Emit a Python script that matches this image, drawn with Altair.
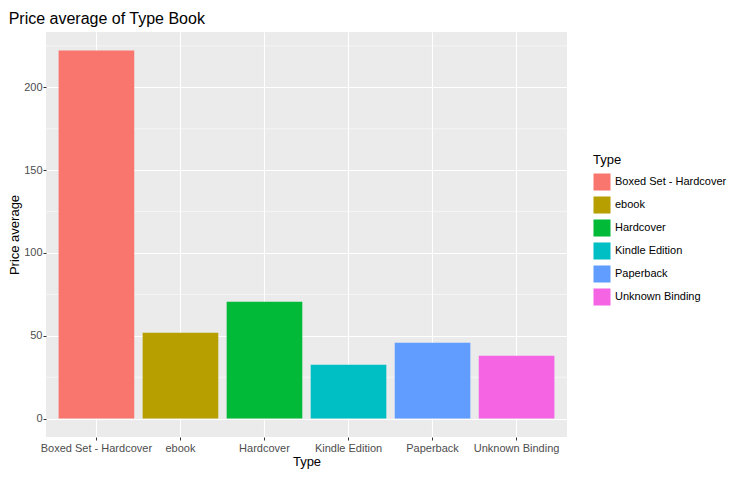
import altair as alt
import pandas as pd

types = ["Boxed Set - Hardcover", "ebook", "Hardcover", "Kindle Edition", "Paperback", "Unknown Binding"]
prices = [222.3, 51.8, 70.5, 32.5, 45.8, 38.0]
colors = ["#F8766D", "#B79F00", "#00BA38", "#00BFC4", "#619CFF", "#F564E3"]
minor_ticks = [25, 75, 125, 175, 225]

df = pd.DataFrame({"Type": types, "Price average": prices})
minor = pd.DataFrame({"v": minor_ticks})

FONT = "Liberation Sans"

x = alt.X("Type:N", sort=types, title="Type",
          scale=alt.Scale(paddingInner=0.1, paddingOuter=0.15),
          axis=alt.Axis(labelAngle=0, bandPosition=0.5, grid=True, gridColor="white",
                        gridWidth=1.1, domain=False, tickColor="#333333", tickSize=3,
                        labelColor="#4D4D4D", labelFontSize=11, titleFontSize=13,
                        titleFontWeight="normal", labelFont=FONT, titleFont=FONT, titlePadding=2))
y_scale = alt.Scale(domain=[-11.1, 233.4], nice=False, zero=False)

bars = alt.Chart(df).mark_bar().encode(
    x=x,
    y=alt.Y("Price average:Q", scale=y_scale, title="Price average",
            axis=alt.Axis(values=[0, 50, 100, 150, 200], grid=True, gridColor="white",
                          gridWidth=1.1, domain=False, tickColor="#333333", tickSize=3,
                          labelColor="#4D4D4D", labelFontSize=11, titleFontSize=13,
                          titleFontWeight="normal", labelFont=FONT, titleFont=FONT,
                          labelPadding=1, titlePadding=2)),
    color=alt.Color("Type:N", sort=types, scale=alt.Scale(domain=types, range=colors),
                    legend=alt.Legend(orient="none", legendX=547, legendY=122, symbolType="square",
                                      symbolSize=290, symbolStrokeWidth=0, symbolOpacity=1,
                                      rowPadding=5, labelFontSize=11, titleFontSize=13,
                                      titleFontWeight="normal", labelFont=FONT, titleFont=FONT,
                                      titlePadding=6)),
)

minor_grid = alt.Chart(minor).mark_rule(color="white", strokeWidth=0.5).encode(
    y=alt.Y("v:Q", scale=y_scale)
)

chart = (minor_grid + bars).properties(
    width=521, height=405,
    title=alt.Title("Price average of Type Book", anchor="start", fontSize=16,
                    fontWeight="normal", font=FONT, offset=5),
    padding={"left": 0, "top": 3, "right": 5, "bottom": 5},
).configure_view(fill="#EBEBEB", stroke=None)

chart.save("out.html", embed_options={"renderer": "svg", "actions": False})
